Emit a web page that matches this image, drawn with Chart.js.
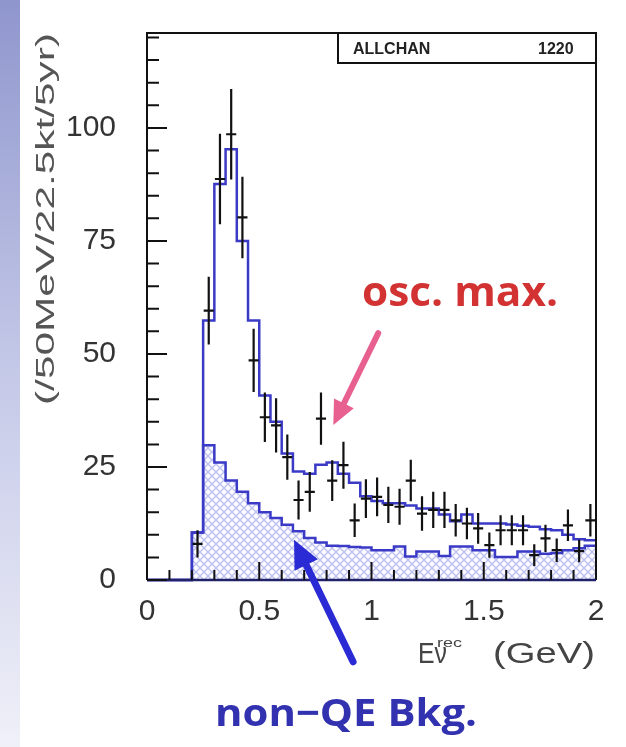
<!DOCTYPE html>
<html><head><meta charset="utf-8">
<script src="https://cdn.jsdelivr.net/npm/chart.js@4.4.0/dist/chart.umd.min.js"></script>
<style>html,body{margin:0;padding:0;background:#fff;}#wrap{width:626px;height:747px;position:relative;}</style>
</head><body><div id="wrap"><canvas id="c" width="626" height="747"></canvas></div>
<script>
// ---- data ----
const binEdges = [0.00,0.05,0.10,0.15,0.20,0.25,0.30,0.35,0.40,0.45,0.50,0.55,0.60,0.65,0.70,0.75,0.80,0.85,0.90,0.95,1.00,1.05,1.10,1.15,1.20,1.25,1.30,1.35,1.40,1.45,1.50,1.55,1.60,1.65,1.70,1.75,1.80,1.85,1.90,1.95,2.00];
const totalMC = [0,0,0,0,10.5,57.4,87.6,95.3,75,57.4,40.8,35,28,24,23.5,25.5,26,23.5,21.5,18.5,17.5,17,17,16.5,15.8,15.8,14.5,13,14.5,12.5,12.5,12.5,12.3,12,11.8,11.2,11,10,9,8.8];
const nonQEBkg = [0,0,0,0,10.5,29.8,26,22,19.5,17,15,13.7,12.2,10.8,9.3,8.3,7.6,7.5,7.3,7.2,6.6,6.6,7.4,5.2,6.3,6.3,5.3,7.4,7.4,6.6,6.6,5.1,5.1,6.3,6.3,5.8,6,6.6,7,7.6];
const dataE = [0.225,0.275,0.325,0.375,0.425,0.475,0.525,0.575,0.625,0.675,0.725,0.775,0.825,0.875,0.925,0.975,1.025,1.075,1.125,1.175,1.225,1.275,1.325,1.375,1.425,1.475,1.525,1.575,1.625,1.675,1.725,1.775,1.825,1.875,1.925,1.975];
const dataN = [8,59.6,88.7,98.6,80.2,48.6,36,34.2,27.2,17.7,19.5,35.7,22,25.4,13.2,18,18.4,16.6,16.2,22,14.7,15.5,15.5,13.2,12.5,11.4,7.7,11,11,11,5.5,9.2,6.6,12.1,6.4,13.2];
const dataErr = [3,7.5,10,10,9,7,5.5,6,5,4.3,4.4,5.8,4.5,5.2,3.7,4.3,4.3,4,4,4.6,3.8,4,4,3.6,3.5,3.4,2.8,3.3,3.3,3.3,2.4,3,2.6,3.5,2.5,3.6];
const xTickValues = [0,0.5,1,1.5,2];
const yTickValues = [0,25,50,75,100];
const xRange = [0,2];
const yRange = [0,121];

// ---- texts & annotation placement ----
const yTitle = '(/50MeV/22.5kt/5yr)';
const boxLabel = 'ALLCHAN', boxNumber = '1220';
const oscText = 'osc. max.', bkgText = 'non\u2212QE Bkg.';
const pinkArrow = {from:[1.03,54.6], to:[0.83,34.3]};
const blueArrow = {from:[0.918,-18.1], to:[0.655,8.9]};

// ---- helpers ----
function stepPoints(vals){
  const pts=[{x:binEdges[0],y:0}];
  for(let i=0;i<vals.length;i++){pts.push({x:binEdges[i],y:vals[i]});pts.push({x:binEdges[i+1],y:vals[i]});}
  return pts;
}
function vBars(){const p=[];dataE.forEach((e,i)=>{p.push({x:e,y:dataN[i]-dataErr[i]},{x:e,y:dataN[i]+dataErr[i]},{x:e,y:null});});return p;}
function hBars(){const p=[];const hw=(binEdges[1]-binEdges[0])*0.45;dataE.forEach((e,i)=>{p.push({x:e-hw,y:dataN[i]},{x:e+hw,y:dataN[i]},{x:e,y:null});});return p;}

function hatch(){
  const c=document.createElement('canvas');c.width=8;c.height=8;const g=c.getContext('2d');
  g.fillStyle='#fbfbff';g.fillRect(0,0,8,8);
  g.strokeStyle='#bcbfee';g.lineWidth=1.3;
  g.beginPath();g.moveTo(-1,-1);g.lineTo(9,9);g.moveTo(-1,9);g.lineTo(9,-1);
  g.stroke();
  return document.getElementById('c').getContext('2d').createPattern(c,'repeat');
}

function drawArrow(ctx,x1,y1,x2,y2,color,lw,hl,hw){
  const a=Math.atan2(y2-y1,x2-x1);
  const bx=x2-hl*Math.cos(a), by=y2-hl*Math.sin(a);
  ctx.save();ctx.strokeStyle=color;ctx.fillStyle=color;ctx.lineWidth=lw;ctx.lineCap='round';
  ctx.beginPath();ctx.moveTo(x1,y1);ctx.lineTo(bx+(hl*0.2)*Math.cos(a),by+(hl*0.2)*Math.sin(a));ctx.stroke();
  ctx.beginPath();ctx.moveTo(x2,y2);
  ctx.lineTo(bx+hw*Math.sin(a),by-hw*Math.cos(a));
  ctx.lineTo(bx-hw*Math.sin(a),by+hw*Math.cos(a));
  ctx.closePath();ctx.fill();ctx.restore();
}
function stretchText(ctx,text,x,y,targetW,align){
  const w=ctx.measureText(text).width;const s=targetW/w;
  ctx.save();ctx.translate(x,y);ctx.scale(s,1);ctx.textAlign=align;ctx.fillText(text,0,0);ctx.restore();
}

const decor = {
  id:'decor',
  beforeDraw(chart){
    const ctx=chart.ctx;ctx.save();
    ctx.fillStyle='#fff';ctx.fillRect(0,0,chart.width,chart.height);
    const g=ctx.createLinearGradient(0,0,0,chart.height);
    g.addColorStop(0,'#8f96cd');g.addColorStop(0.5,'#c5c9e8');g.addColorStop(1,'#eff0f8');
    ctx.fillStyle=g;ctx.fillRect(0,0,20,chart.height);
    ctx.restore();
  },
  afterDatasetsDraw(chart){
    const ctx=chart.ctx, xs=chart.scales.x, ys=chart.scales.y, ca=chart.chartArea;
    ctx.save();
    // frame
    ctx.strokeStyle='#111';ctx.lineWidth=2;
    ctx.beginPath();ctx.moveTo(ca.left,ca.bottom);ctx.lineTo(ca.left,ca.top);ctx.lineTo(ca.right,ca.top);ctx.lineTo(ca.right,ca.bottom);ctx.stroke();
    ctx.strokeStyle='#22226a';ctx.lineWidth=2.5;ctx.beginPath();ctx.moveTo(ca.left,ca.bottom);ctx.lineTo(ca.right,ca.bottom);ctx.stroke();
    // inward ticks
    ctx.strokeStyle='#111';ctx.lineWidth=2;ctx.beginPath();
    for(let v=0;v<=yRange[1];v+=5){const p=ys.getPixelForValue(v);const L=(v%25===0)?20:12;ctx.moveTo(ca.left,p);ctx.lineTo(ca.left+L,p);}
    for(let k=1;k<20;k++){const v=k/10;const p=xs.getPixelForValue(v);const L=(k%5===0)?18:10;ctx.moveTo(p,ca.bottom);ctx.lineTo(p,ca.bottom-L);}
    ctx.stroke();
    // stats box
    const bx=338, by=ca.top, bh=30;
    ctx.fillStyle='#fff';ctx.fillRect(bx,by,ca.right-bx,bh);
    ctx.lineWidth=2;ctx.strokeStyle='#111';ctx.strokeRect(bx,by,ca.right-bx,bh);
    ctx.fillStyle='#222';ctx.font='bold 16px "Liberation Sans"';ctx.textBaseline='middle';ctx.textAlign='left';
    ctx.fillText(boxLabel,353,by+bh/2+2);ctx.fillText(boxNumber,538,by+bh/2+2);
    // y title
    ctx.fillStyle='#555';ctx.font='25px "Liberation Sans"';ctx.textBaseline='middle';
    ctx.save();ctx.translate(47,219);ctx.rotate(-Math.PI/2);stretchText(ctx,yTitle,0,0,372,'center');ctx.restore();
    // x title
    ctx.textBaseline='alphabetic';ctx.fillStyle='#444';
    ctx.font='30px "Liberation Sans"';stretchText(ctx,'E\u03bd',418,663,29,'left');
    ctx.font='13px "Liberation Sans"';stretchText(ctx,'rec',437,647,25,'left');
    ctx.font='30px "Liberation Sans"';stretchText(ctx,'(GeV)',595,663,102,'right');
    // annotations
    const P=(a)=>[xs.getPixelForValue(a[0]),ys.getPixelForValue(a[1])];
    let f=P(pinkArrow.from),t=P(pinkArrow.to);
    drawArrow(ctx,f[0],f[1],t[0],t[1],'#e8608f',6,24,11);
    f=P(blueArrow.from);t=P(blueArrow.to);
    drawArrow(ctx,f[0],f[1],t[0],t[1],'#2b2bd6',7,28,13);
    ctx.fillStyle='#d23232';ctx.font='bold 42px "Open Sans"';ctx.textAlign='left';ctx.textBaseline='alphabetic';
    stretchText(ctx,oscText,362,306,196,'left');
    ctx.fillStyle='#3232b0';ctx.font='bold 38px "Open Sans"';
    stretchText(ctx,bkgText,215,726,262,'left');
    ctx.restore();
  }
};

const tickFont={family:'"Liberation Sans", Arial, sans-serif',size:30};
new Chart(document.getElementById('c'),{
  type:'line',
  data:{datasets:[
    {label:'data err',data:vBars(),borderColor:'#111',borderWidth:2.2,pointRadius:0,spanGaps:false,order:1,clip:false},
    {label:'data bin',data:hBars(),borderColor:'#111',borderWidth:2.2,pointRadius:0,spanGaps:false,order:1,clip:false},
    {label:'total',data:stepPoints(totalMC),borderColor:'#3a3ac6',borderWidth:2.5,pointRadius:0,fill:false,order:2,clip:false},
    {label:'non-QE',data:stepPoints(nonQEBkg),borderColor:'#3a3ac6',borderWidth:2.5,pointRadius:0,fill:'origin',backgroundColor:hatch(),order:3,clip:false}
  ]},
  options:{
    responsive:false,animation:false,devicePixelRatio:1,
    layout:{padding:{top:33,right:30,bottom:0,left:0}},
    plugins:{legend:{display:false},tooltip:{enabled:false}},
    elements:{line:{tension:0}},
    scales:{
      x:{type:'linear',min:xRange[0],max:xRange[1],
        afterFit(s){s.height=167;s.paddingLeft=0;s.paddingRight=0;},
        afterBuildTicks(s){s.ticks=xTickValues.map(v=>({value:v}));},
        grid:{display:false,drawTicks:false},border:{display:false},
        ticks:{font:tickFont,color:'#333',padding:14,maxRotation:0,autoSkip:false,callback:(v)=>String(v)}},
      y:{type:'linear',min:yRange[0],max:yRange[1],
        afterFit(s){s.width=147;s.paddingTop=0;s.paddingBottom=0;},
        afterBuildTicks(s){s.ticks=yTickValues.map(v=>({value:v}));},
        grid:{display:false,drawTicks:false},border:{display:false},
        ticks:{font:tickFont,color:'#333',padding:31,callback:(v)=>String(v)}}
    }
  },
  plugins:[decor]
});
</script></body></html>
